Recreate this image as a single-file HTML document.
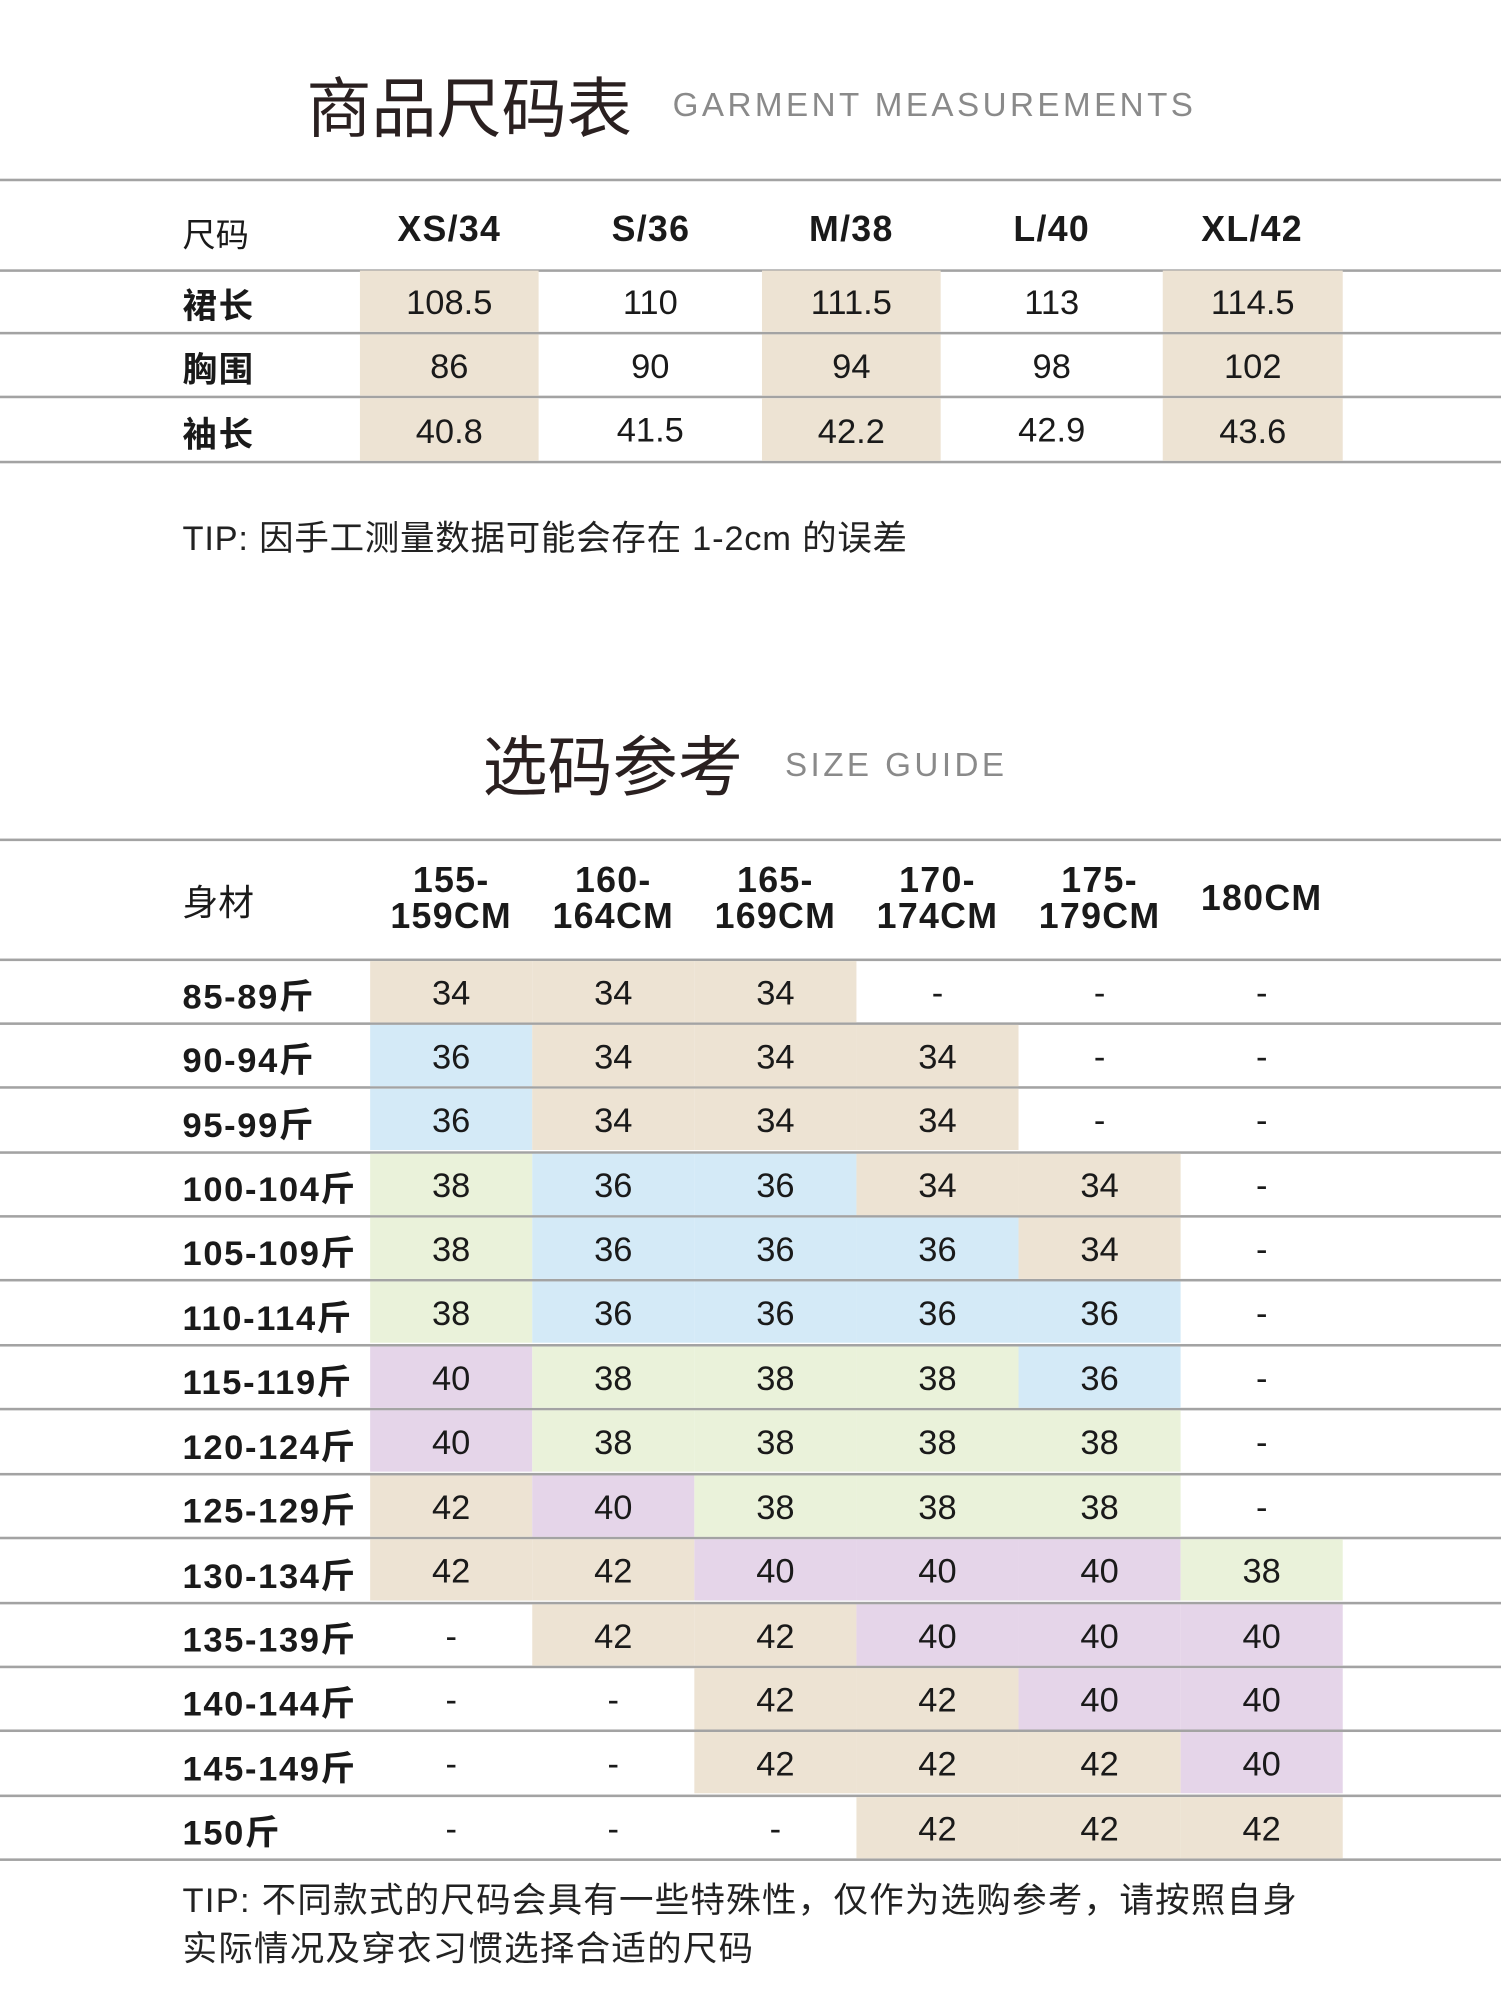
<!DOCTYPE html>
<html><head><meta charset="utf-8">
<style>
html,body{margin:0;padding:0;background:#fff;width:1501px;height:2001px;overflow:hidden}
#w{position:absolute;left:0;top:0;width:1176px;height:1568px;transform:scale(1.27636);transform-origin:0 0;font-family:"Liberation Sans","Noto Sans CJK SC",sans-serif;color:#1a1a1a}
.hl{position:absolute;left:0;width:1176px;height:0;border-top:2px solid #a3a3a3}
.t{position:absolute;font-size:51px;color:#2a2020;font-family:"Noto Sans CJK SC",sans-serif;line-height:1}
.st{position:absolute;font-size:26px;color:#8a8a8a;letter-spacing:2.7px;line-height:1}
.r{position:absolute;left:0;width:1176px;display:flex;border-bottom:2px solid #a3a3a3;box-sizing:border-box}
.l{box-sizing:border-box;padding-left:143px;padding-top:3px;font-weight:bold;font-size:27px;letter-spacing:1.3px;display:flex;align-items:center;font-family:"Liberation Sans","Noto Sans CJK SC",sans-serif}
.c{display:flex;align-items:center;justify-content:center;font-size:27px;font-style:normal;padding-top:3px;box-sizing:border-box}
.b{background:#ede3d3}.u{background:#d4eaf7}.g{background:#eaf2da}.p{background:#e5d5e9}
.r2 .l{width:290px}.r2 .c{width:127px;height:48px}
.r1 .c{height:48px}
.tip{position:absolute;left:143px;font-size:27px;letter-spacing:0.6px;color:#222;font-family:"Liberation Sans","Noto Sans CJK SC",sans-serif}
.h{position:absolute;font-size:28px;font-weight:bold;text-align:center;line-height:28px;letter-spacing:1px}
</style></head><body><div id="w">
<div class="t" style="left:240px;top:56px">商品尺码表</div>
<div class="st" style="left:527px;top:69px">GARMENT MEASUREMENTS</div>
<div class="hl" style="top:140px"></div>
<div style="position:absolute;left:143px;top:164px;font-size:26px;font-family:'Noto Sans CJK SC',sans-serif">尺码</div>
<div class="h" style="left:282px;width:140px;top:166px">XS/34</div>
<div class="h" style="left:440px;width:140px;top:166px">S/36</div>
<div class="h" style="left:597px;width:140px;top:166px">M/38</div>
<div class="h" style="left:754px;width:140px;top:166px">L/40</div>
<div class="h" style="left:911px;width:140px;top:166px">XL/42</div>
<div class="hl" style="top:211px"></div>
<div class="r r1" style="top:212px;height:50px"><span class="l" style="width:282px">裙长</span><i class="c b" style="width:140px">108.5</i><i class="c" style="width:175px">110</i><i class="c b" style="width:140px">111.5</i><i class="c" style="width:174px">113</i><i class="c b" style="width:141px">114.5</i></div>
<div class="r r1" style="top:262px;height:50px"><span class="l" style="width:282px">胸围</span><i class="c b" style="width:140px">86</i><i class="c" style="width:175px">90</i><i class="c b" style="width:140px">94</i><i class="c" style="width:174px">98</i><i class="c b" style="width:141px">102</i></div>
<div class="r r1" style="top:312px;height:51px"><span class="l" style="width:282px">袖长</span><i class="c b" style="width:140px;height:49px">40.8</i><i class="c" style="width:175px">41.5</i><i class="c b" style="width:140px;height:49px">42.2</i><i class="c" style="width:174px">42.9</i><i class="c b" style="width:141px;height:49px">43.6</i></div>
<div class="tip" style="top:400px">TIP: 因手工测量数据可能会存在 1-2cm 的误差</div>

<div class="t" style="left:378px;top:572px">选码参考</div>
<div class="st" style="left:615px;top:586px">SIZE GUIDE</div>
<div class="hl" style="top:657px"></div>
<div style="position:absolute;left:143px;top:686px;font-size:28px;font-family:'Noto Sans CJK SC',sans-serif">身材</div>
<div class="h" style="left:290px;width:127px;top:676px">155-<br>159CM</div>
<div class="h" style="left:417px;width:127px;top:676px">160-<br>164CM</div>
<div class="h" style="left:544px;width:127px;top:676px">165-<br>169CM</div>
<div class="h" style="left:671px;width:127px;top:676px">170-<br>174CM</div>
<div class="h" style="left:798px;width:127px;top:676px">175-<br>179CM</div>
<div class="h" style="left:925px;width:127px;top:690px">180CM</div>
<div class="hl" style="top:751px"></div>
<div class="r r2" style="top:753px;height:50px"><span class="l">85-89斤</span><i class="c b">34</i><i class="c b">34</i><i class="c b">34</i><i class="c">-</i><i class="c">-</i><i class="c">-</i></div>
<div class="r r2" style="top:803px;height:50px"><span class="l">90-94斤</span><i class="c u">36</i><i class="c b">34</i><i class="c b">34</i><i class="c b">34</i><i class="c">-</i><i class="c">-</i></div>
<div class="r r2" style="top:853px;height:51px"><span class="l">95-99斤</span><i class="c u">36</i><i class="c b">34</i><i class="c b">34</i><i class="c b">34</i><i class="c">-</i><i class="c">-</i></div>
<div class="r r2" style="top:904px;height:50px"><span class="l">100-104斤</span><i class="c g">38</i><i class="c u">36</i><i class="c u">36</i><i class="c b">34</i><i class="c b">34</i><i class="c">-</i></div>
<div class="r r2" style="top:954px;height:50px"><span class="l">105-109斤</span><i class="c g">38</i><i class="c u">36</i><i class="c u">36</i><i class="c u">36</i><i class="c b">34</i><i class="c">-</i></div>
<div class="r r2" style="top:1004px;height:51px"><span class="l">110-114斤</span><i class="c g">38</i><i class="c u">36</i><i class="c u">36</i><i class="c u">36</i><i class="c u">36</i><i class="c">-</i></div>
<div class="r r2" style="top:1055px;height:50px"><span class="l">115-119斤</span><i class="c p">40</i><i class="c g">38</i><i class="c g">38</i><i class="c g">38</i><i class="c u">36</i><i class="c">-</i></div>
<div class="r r2" style="top:1105px;height:51px"><span class="l">120-124斤</span><i class="c p">40</i><i class="c g">38</i><i class="c g">38</i><i class="c g">38</i><i class="c g">38</i><i class="c">-</i></div>
<div class="r r2" style="top:1156px;height:50px"><span class="l">125-129斤</span><i class="c b">42</i><i class="c p">40</i><i class="c g">38</i><i class="c g">38</i><i class="c g">38</i><i class="c">-</i></div>
<div class="r r2" style="top:1206px;height:51px"><span class="l">130-134斤</span><i class="c b">42</i><i class="c b">42</i><i class="c p">40</i><i class="c p">40</i><i class="c p">40</i><i class="c g">38</i></div>
<div class="r r2" style="top:1257px;height:50px"><span class="l">135-139斤</span><i class="c">-</i><i class="c b">42</i><i class="c b">42</i><i class="c p">40</i><i class="c p">40</i><i class="c p">40</i></div>
<div class="r r2" style="top:1307px;height:50px"><span class="l">140-144斤</span><i class="c">-</i><i class="c">-</i><i class="c b">42</i><i class="c b">42</i><i class="c p">40</i><i class="c p">40</i></div>
<div class="r r2" style="top:1357px;height:51px"><span class="l">145-149斤</span><i class="c">-</i><i class="c">-</i><i class="c b">42</i><i class="c b">42</i><i class="c b">42</i><i class="c p">40</i></div>
<div class="r r2" style="top:1408px;height:50px"><span class="l">150斤</span><i class="c">-</i><i class="c">-</i><i class="c">-</i><i class="c b">42</i><i class="c b">42</i><i class="c b">42</i></div>
<div class="tip" style="top:1470px;line-height:38px;letter-spacing:1.0px">TIP: 不同款式的尺码会具有一些特殊性，仅作为选购参考，请按照自身<br>实际情况及穿衣习惯选择合适的尺码</div>
</div></body></html>
